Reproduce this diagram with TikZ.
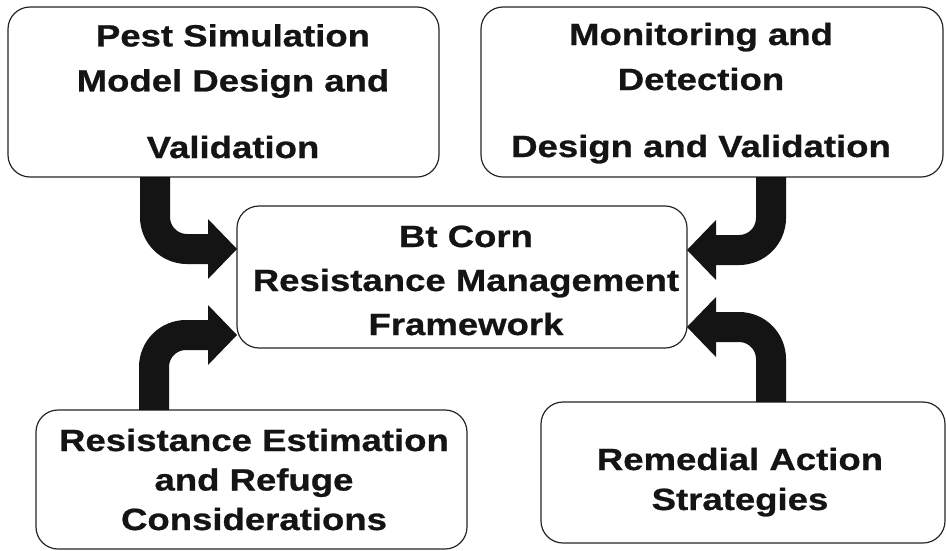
\documentclass[tikz,border=0pt]{standalone}
\usepackage{fontspec}
\setmainfont{Liberation Sans}[FakeStretch=1.19, BoldFeatures={FakeBold=0.8}]
\usetikzlibrary{arrows.meta,calc}
\begin{document}
\begin{tikzpicture}[x=1pt,y=-1pt,
  box/.style={draw=black!85, line width=1.2pt, rounded corners=22pt, inner sep=0pt, outer sep=0pt},
  lbl/.style={align=center, inner sep=0pt, anchor=base, text=black!92, font=\bfseries\fontsize{30.7}{#1}\selectfont},
  flow/.style={line width=30pt, draw=black!92, rounded corners=32pt, -{Triangle[length=29pt,width=60pt,line width=0pt]}}]
\path[use as bounding box, fill=white] (0,0) rectangle (946,550);
% boxes
\node[box, minimum width=431pt, minimum height=170pt] (TL) at (223.5,92) {};
\node[box, minimum width=462pt, minimum height=170pt] (TR) at (712,92) {};
\node[box, minimum width=450pt, minimum height=142pt] (C) at (462,277) {};
\node[box, minimum width=431pt, minimum height=139pt] (BL) at (251.5,479.5) {};
\node[box, minimum width=404pt, minimum height=141pt] (BR) at (743,472.5) {};
% texts (anchored at the baseline of the last line)
\node[lbl=45] (TLt) at (233,158) {Pest Simulation\\Model Design and\\[21.6pt]Validation};
\node[lbl=45] (TRt) at (701,157) {Monitoring and\\Detection\\[22pt]Design and Validation};
\node[lbl=44] (Ct) at (466,335) {Bt Corn\\Resistance Management\\Framework};
\node[lbl=39.5] (BLt) at (254,530) {Resistance Estimation\\and Refuge\\Considerations};
\node[lbl=40] (BRt) at (740,510) {Remedial Action\\Strategies};
% arrows
\draw[flow] ($(TL.south)+(-68.5,0)$) |- ($(C.west)+(0,-28)$);
\draw[flow] ($(TR.south)+(59,0)$) |- ($(C.east)+(0,-27)$);
\draw[flow] ($(BL.north)+(-97.5,0)$) |- ($(C.west)+(0,58)$);
\draw[flow] ($(BR.north)+(28,0)$) |- ($(C.east)+(0,50)$);
\end{tikzpicture}
\end{document}
